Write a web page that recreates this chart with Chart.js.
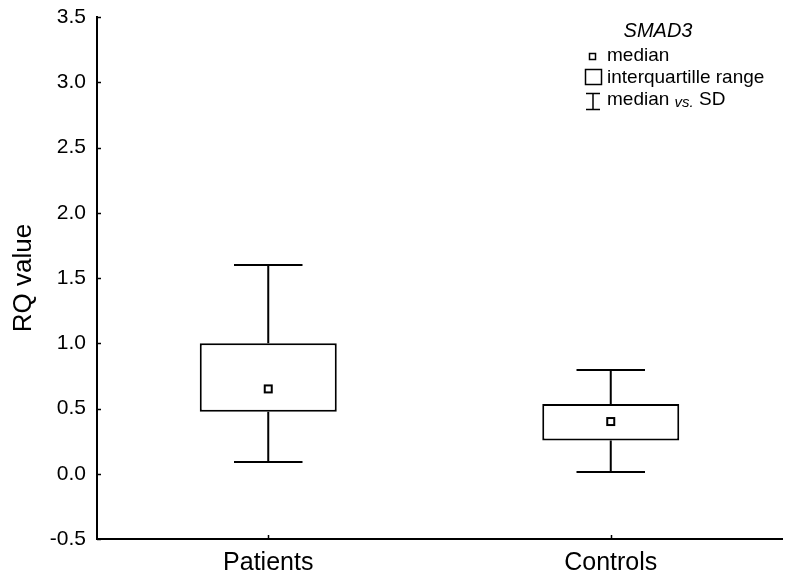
<!DOCTYPE html>
<html>
<head>
<meta charset="utf-8">
<script src="https://cdn.jsdelivr.net/npm/chart.js@4/dist/chart.umd.min.js"></script>
<style>
  html, body { margin: 0; padding: 0; background: #fff; }
</style>
</head>
<body>
<canvas id="myChart" width="789" height="577"></canvas>
<script>
// datos (SMAD3)
const categories = ['Patients', 'Controls'];
const q1 = [0.475, 0.255];          // borde inferior de la caja
const q3 = [1.00, 0.535];           // borde superior de la caja
const medians = [0.65, 0.40];
const whiskerLow = [0.09, 0.015];
const whiskerHigh = [1.60, 0.795];
const yTicks = [-0.5, 0.0, 0.5, 1.0, 1.5, 2.0, 2.5, 3.0, 3.5];

const FONT = '"Liberation Sans", Arial, sans-serif';
Chart.defaults.font.family = FONT;
Chart.defaults.color = '#000';

// bigotes, medianas, marcas de ejes y leyenda
const boxExtras = {
    id: 'boxExtras',
    afterDatasetsDraw(chart) {
        const ctx = chart.ctx;
        const x = chart.scales.x;
        const y = chart.scales.y;
        const meta = chart.getDatasetMeta(0);
        ctx.save();
        ctx.strokeStyle = '#000';
        ctx.lineWidth = 2;

        categories.forEach((c, i) => {
            const cx = x.getPixelForValue(i);
            const half = meta.data[i].width / 4;
            const segs = [[q3[i], whiskerHigh[i]], [q1[i], whiskerLow[i]]];
            segs.forEach(([from, to]) => {
                const yTo = Math.round(y.getPixelForValue(to));
                ctx.beginPath();
                ctx.moveTo(cx, y.getPixelForValue(from));
                ctx.lineTo(cx, yTo);
                ctx.moveTo(cx - half, yTo);
                ctx.lineTo(cx + half, yTo);
                ctx.stroke();
            });
            // cuadrado de la mediana
            const my = y.getPixelForValue(medians[i]);
            ctx.fillStyle = '#fff';
            ctx.fillRect(cx - 3.5, my - 3.5, 7, 7);
            ctx.strokeRect(cx - 3.5, my - 3.5, 7, 7);
        });

        // marcas hacia dentro
        ctx.lineWidth = 1.5;
        yTicks.forEach(v => {
            const py = Math.round(y.getPixelForValue(v)) + 0.5;
            ctx.beginPath();
            ctx.moveTo(x.left, py);
            ctx.lineTo(x.left + 4, py);
            ctx.stroke();
        });
        categories.forEach((c, i) => {
            const px = Math.round(x.getPixelForValue(i)) + 0.5;
            ctx.beginPath();
            ctx.moveTo(px, y.bottom);
            ctx.lineTo(px, y.bottom - 4);
            ctx.stroke();
        });

        // leyenda
        ctx.fillStyle = '#000';
        ctx.textBaseline = 'middle';
        ctx.textAlign = 'center';
        ctx.font = 'italic 20px ' + FONT;
        ctx.fillText('SMAD3', 658, 31);

        ctx.textAlign = 'left';
        ctx.font = '19px ' + FONT;
        ctx.lineWidth = 1.5;
        // mediana
        ctx.strokeRect(589.5, 53.5, 6, 6);
        ctx.fillText('median', 607, 56);
        // rango intercuartil
        ctx.strokeRect(585.5, 69.5, 16, 15);
        ctx.fillText('interquartille range', 607, 78);
        // mediana vs SD
        ctx.beginPath();
        ctx.moveTo(586, 93.5); ctx.lineTo(600, 93.5);
        ctx.moveTo(593, 93.5); ctx.lineTo(593, 109.5);
        ctx.moveTo(586, 109.5); ctx.lineTo(600, 109.5);
        ctx.stroke();
        ctx.fillText('median ', 607, 100);
        let tx = 607 + ctx.measureText('median ').width;
        ctx.font = 'italic 15px ' + FONT;
        ctx.fillText('vs.', tx, 103);
        tx += ctx.measureText('vs.').width;
        ctx.font = '19px ' + FONT;
        ctx.fillText(' SD', tx, 100);
        ctx.restore();
    }
};

const ctxChart = document.getElementById('myChart').getContext('2d');

new Chart(ctxChart, {
    type: 'bar',
    data: {
        labels: categories,
        datasets: [{
            data: categories.map((c, i) => [q1[i], q3[i]]),
            backgroundColor: '#fff',
            borderColor: '#000',
            borderWidth: 2,
            borderSkipped: false,
            categoryPercentage: 1,
            barPercentage: 0.4
        }]
    },
    options: {
        responsive: false,
        devicePixelRatio: 1,
        animation: false,
        layout: { padding: { top: 17, right: 7, left: 0, bottom: 0 } },
        scales: {
            x: {
                grid: { display: false, drawTicks: false },
                border: { display: true, color: '#000', width: 2 },
                ticks: { font: { size: 25 }, padding: 9, color: '#000' },
                afterFit: (s) => { s.height = 38; }
            },
            y: {
                min: -0.5,
                max: 3.5,
                afterBuildTicks: (s) => { s.ticks = yTicks.map(v => ({ value: v })); },
                grid: { display: false, drawTicks: false },
                border: { display: true, color: '#000', width: 2 },
                ticks: {
                    font: { size: 21 },
                    padding: 11,
                    color: '#000',
                    callback: (v) => Number(v).toFixed(1)
                },
                title: {
                    display: true,
                    text: 'RQ value',
                    font: { size: 26 },
                    color: '#000',
                    padding: { top: 8, bottom: 0 }
                },
                afterFit: (s) => {
                    s.width = 97;
                    s.paddingTop = 0;
                    s.paddingBottom = 0;
                }
            }
        },
        plugins: {
            legend: { display: false },
            tooltip: { enabled: false }
        }
    },
    plugins: [boxExtras]
});
</script>
</body>
</html>
